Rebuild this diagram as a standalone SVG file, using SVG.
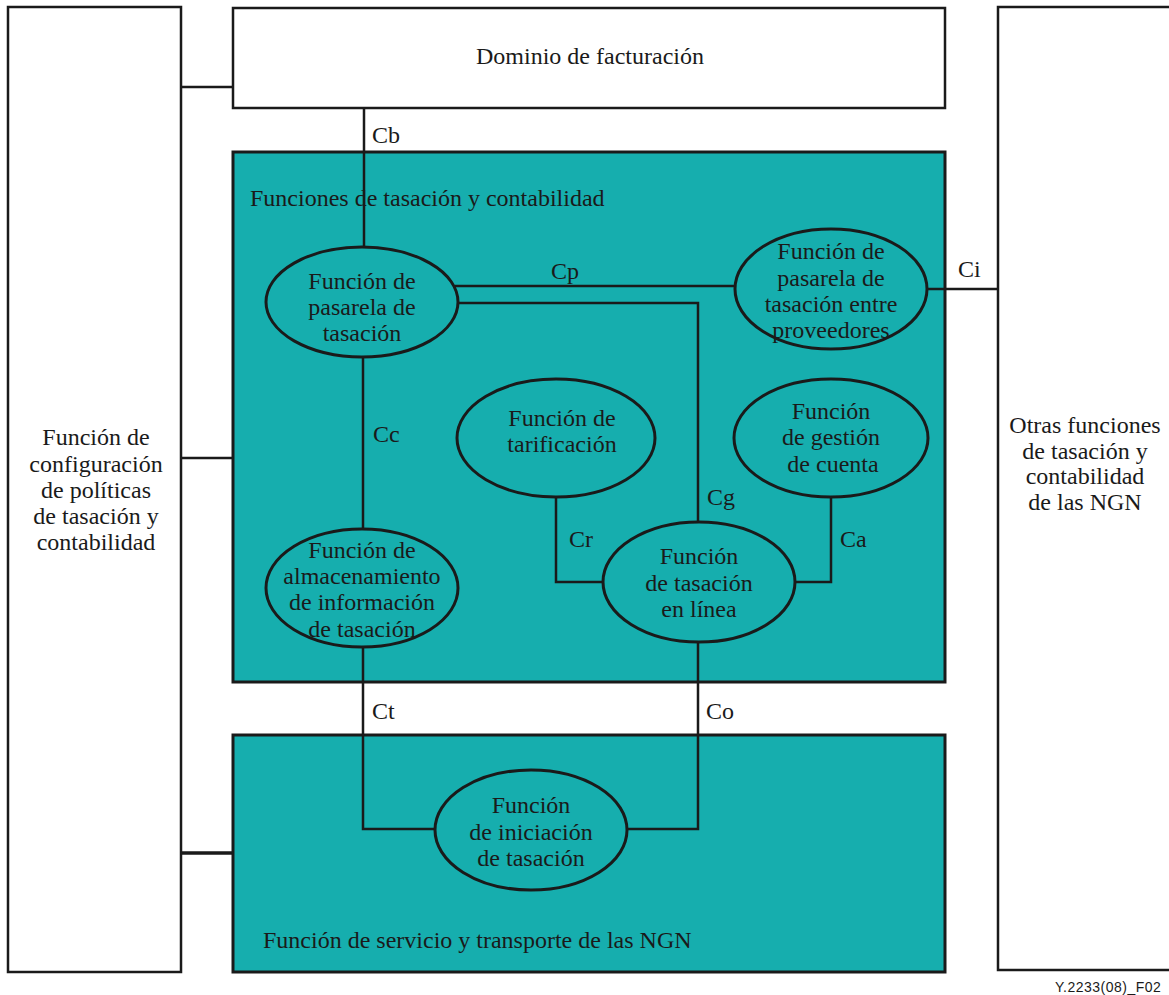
<svg xmlns="http://www.w3.org/2000/svg" width="1169" height="995" viewBox="0 0 1169 995">
<style>
.box{fill:#fff;stroke:#1a1a1a;stroke-width:2.5}
.teal{fill:#16AEAE;stroke:#1a1a1a;stroke-width:3}
.ell{fill:#16AEAE;stroke:#1a1a1a;stroke-width:3}
.ln{fill:none;stroke:#1a1a1a;stroke-width:2.5}
.lt{fill:none;stroke:#1a1a1a;stroke-width:3.5}
text{font-family:"Liberation Serif","Times New Roman",serif;font-size:24px;fill:#1a1a1a}
.c{text-anchor:middle}
.sm{font-family:"Liberation Sans",Arial,sans-serif;font-size:14px;letter-spacing:0.5px}
</style>
<rect width="1169" height="995" fill="#fff"/>
<g id="teal-containers">
<rect id="charging-functions" class="teal" x="233" y="152" width="712" height="530"/>
<rect id="ngn-transport" class="teal" x="233" y="735" width="712" height="237"/>
</g>
<g id="connectors">
<line class="ln" x1="181" y1="87" x2="233" y2="87"/>
<line class="ln" x1="181" y1="458" x2="233" y2="458"/>
<line class="lt" x1="181" y1="853" x2="233" y2="853"/>
<line class="ln" x1="364" y1="108" x2="364" y2="248"/>
<line class="ln" x1="455" y1="286" x2="737" y2="286"/>
<polyline class="ln" points="458,303 698,303 698,523"/>
<line class="ln" x1="927" y1="289" x2="998" y2="289"/>
<line class="ln" x1="363" y1="357" x2="363" y2="529"/>
<polyline class="ln" points="556,497 556,582 603,582"/>
<polyline class="ln" points="831,497 831,582 795,582"/>
<polyline class="ln" points="363,647 363,829 434,829"/>
<polyline class="ln" points="698,642 698,829 627,829"/>
<text x="372" y="143">Cb</text>
<text x="551" y="279">Cp</text>
<text x="958" y="277">Ci</text>
<text x="373" y="442">Cc</text>
<text x="707" y="505">Cg</text>
<text x="569" y="547">Cr</text>
<text x="840" y="547">Ca</text>
<text x="372" y="719">Ct</text>
<text x="706" y="719">Co</text>
</g>
<g id="policy-config">
<rect class="box" x="8" y="7" width="173" height="965"/>
<text class="c" x="96" y="445">Función de</text>
<text class="c" x="96" y="472">configuración</text>
<text class="c" x="96" y="498">de políticas</text>
<text class="c" x="96" y="524">de tasación y</text>
<text class="c" x="96" y="550">contabilidad</text>
</g>
<g id="billing-domain">
<rect class="box" x="233" y="8" width="712" height="100"/>
<text class="c" x="590" y="64">Dominio de facturación</text>
</g>
<g id="other-ngn">
<rect class="box" x="998" y="7" width="180" height="963"/>
<text class="c" x="1085" y="433">Otras funciones</text>
<text class="c" x="1085" y="459">de tasación y</text>
<text class="c" x="1085" y="484">contabilidad</text>
<text class="c" x="1085" y="510">de las NGN</text>
</g>
<text x="250" y="206">Funciones de tasación y contabilidad</text>
<text x="263" y="948">Función de servicio y transporte de las NGN</text>
<g id="charging-gateway">
<ellipse class="ell" cx="362" cy="302" rx="96" ry="55"/>
<text class="c" x="362" y="289">Función de</text>
<text class="c" x="362" y="315">pasarela de</text>
<text class="c" x="362" y="341">tasación</text>
</g>
<g id="inter-provider-gateway">
<ellipse class="ell" cx="831" cy="289" rx="96" ry="60"/>
<text class="c" x="831" y="259">Función de</text>
<text class="c" x="831" y="286">pasarela de</text>
<text class="c" x="831" y="312">tasación entre</text>
<text class="c" x="831" y="338">proveedores</text>
</g>
<g id="rating">
<ellipse class="ell" cx="556" cy="438" rx="99" ry="59"/>
<text class="c" x="562" y="426">Función de</text>
<text class="c" x="562" y="452">tarificación</text>
</g>
<g id="account-management">
<ellipse class="ell" cx="831" cy="438" rx="97" ry="59"/>
<text class="c" x="831" y="419">Función</text>
<text class="c" x="831" y="445">de gestión</text>
<text class="c" x="833" y="472">de cuenta</text>
</g>
<g id="online-charging">
<ellipse class="ell" cx="699" cy="582" rx="96" ry="60"/>
<text class="c" x="699" y="564">Función</text>
<text class="c" x="699" y="591">de tasación</text>
<text class="c" x="699" y="617">en línea</text>
</g>
<g id="charging-data-storage">
<ellipse class="ell" cx="362" cy="588" rx="96" ry="59"/>
<text class="c" x="362" y="558">Función de</text>
<text class="c" x="362" y="584">almacenamiento</text>
<text class="c" x="362" y="610">de información</text>
<text class="c" x="362" y="637">de tasación</text>
</g>
<g id="charging-trigger">
<ellipse class="ell" cx="531" cy="830" rx="96" ry="60"/>
<text class="c" x="531" y="813">Función</text>
<text class="c" x="531" y="840">de iniciación</text>
<text class="c" x="531" y="866">de tasación</text>
</g>
<text class="sm" x="1055" y="992">Y.2233(08)_F02</text>
</svg>
